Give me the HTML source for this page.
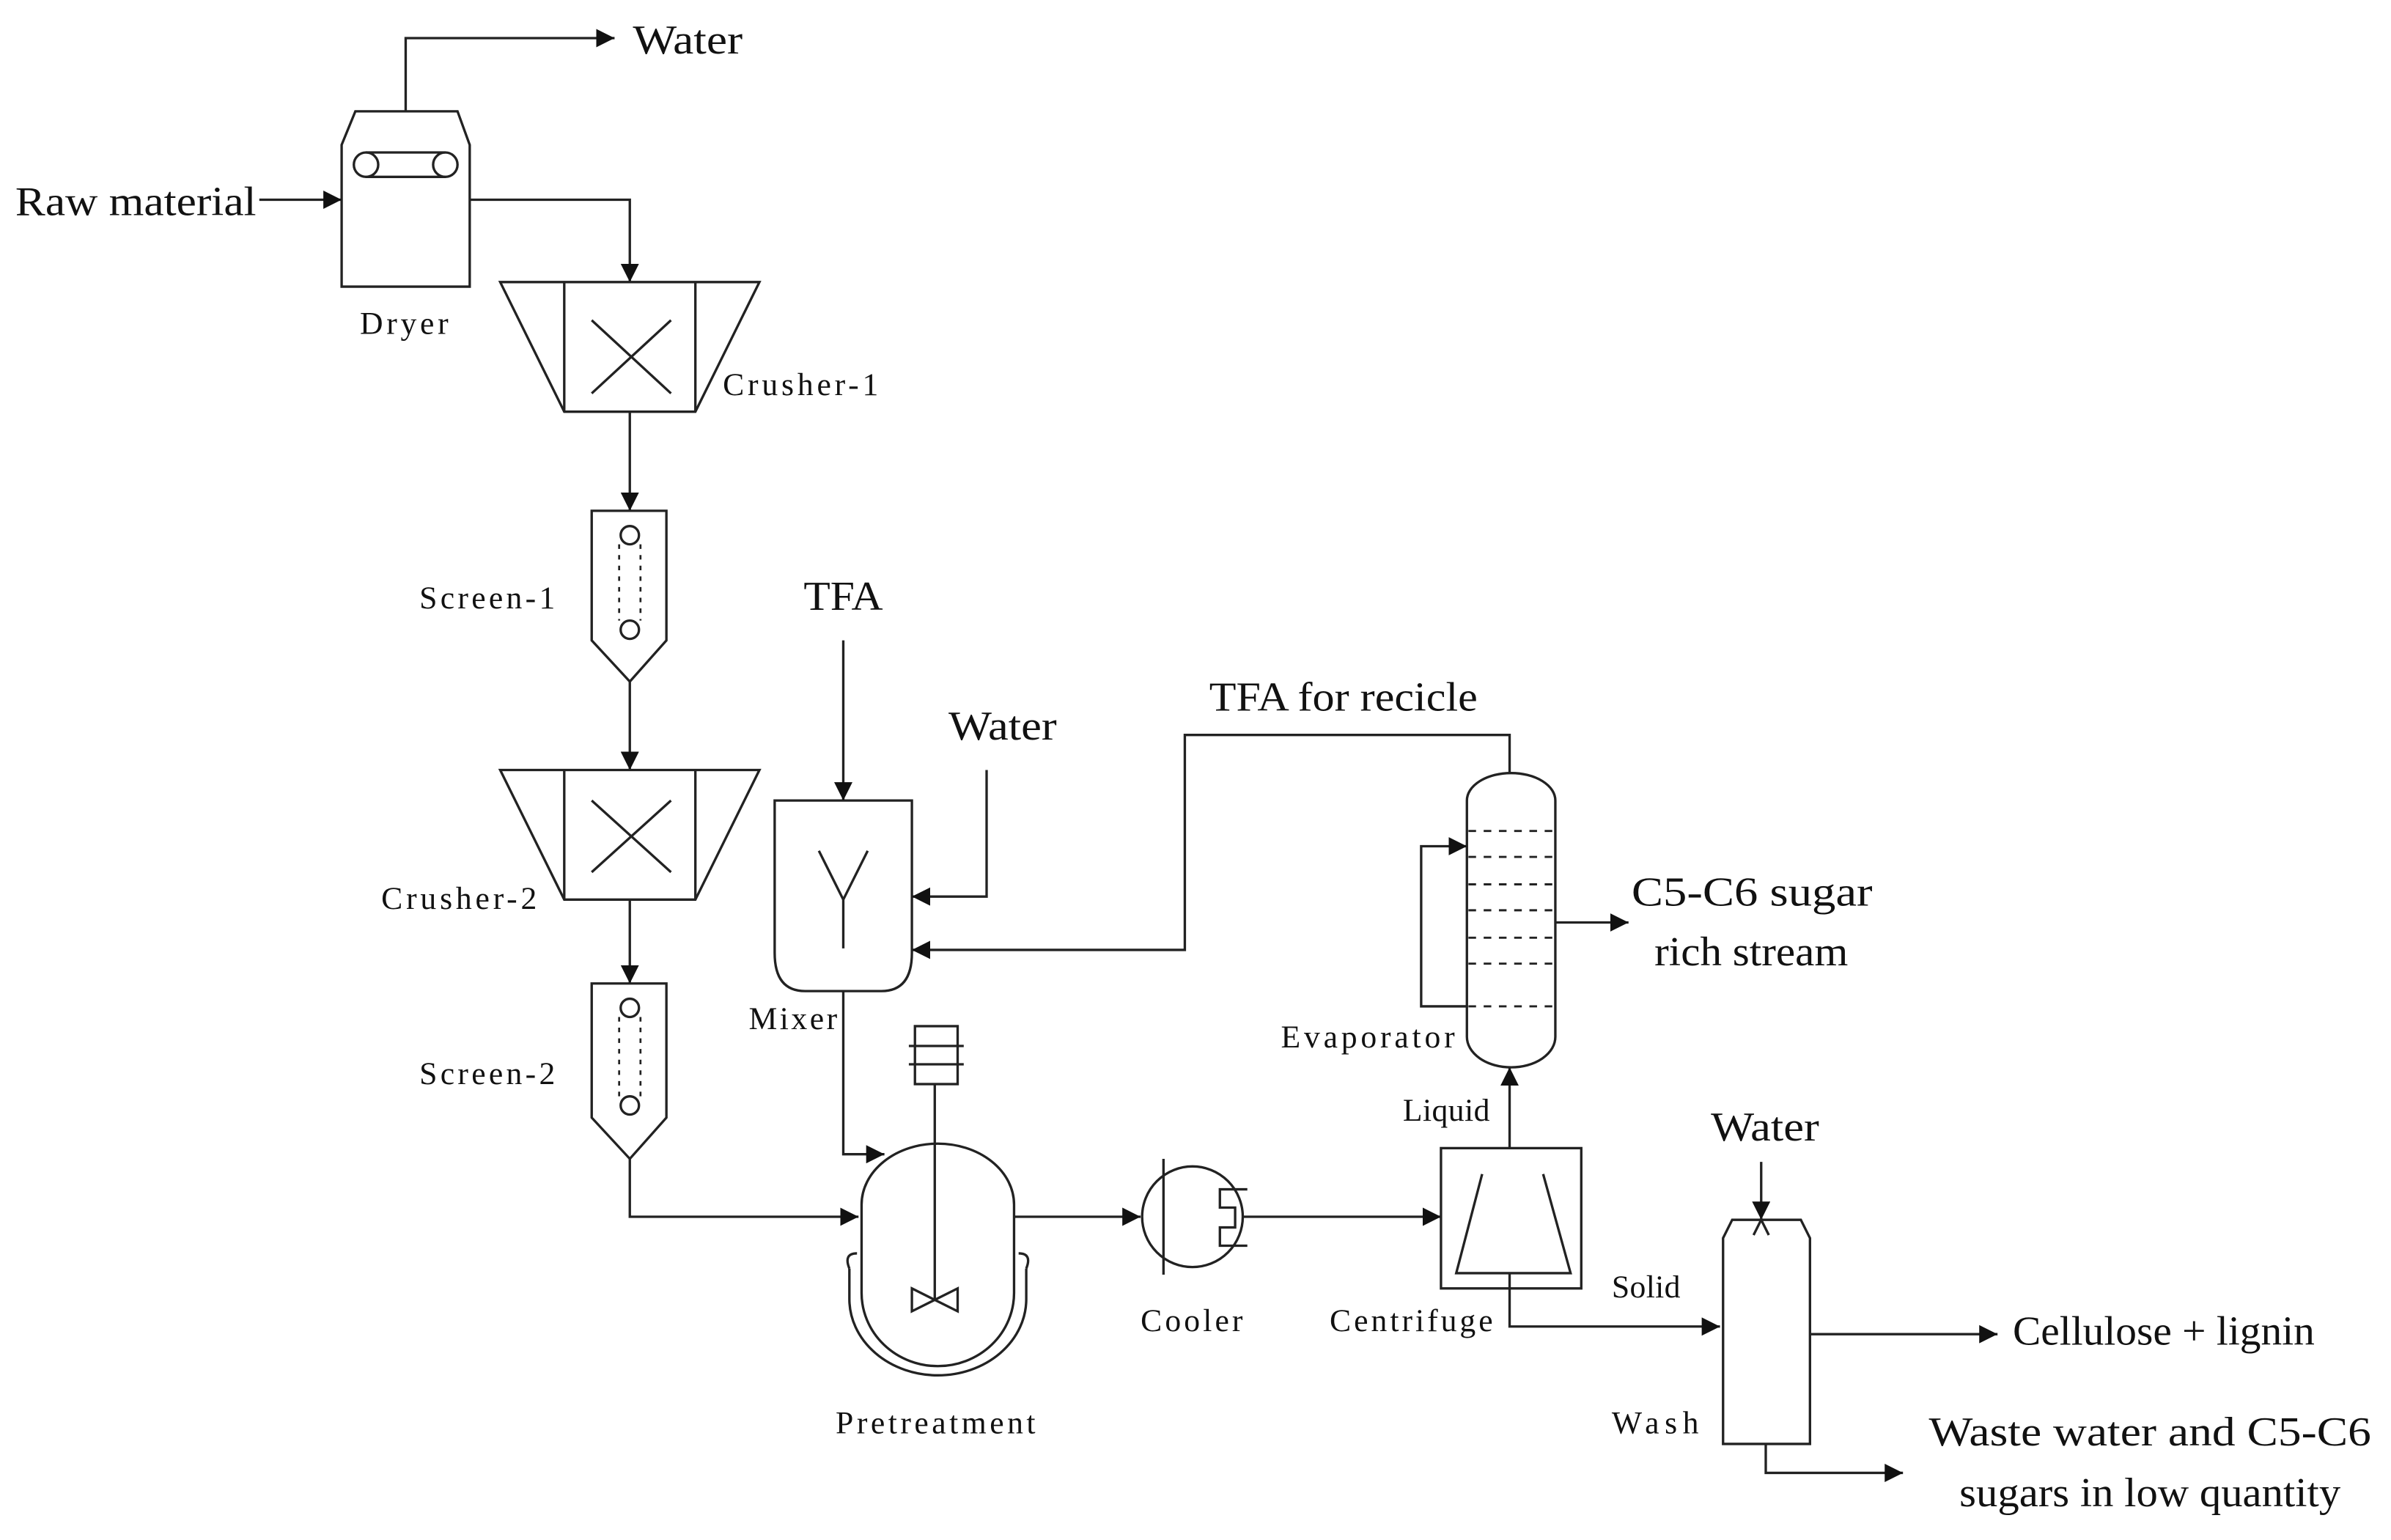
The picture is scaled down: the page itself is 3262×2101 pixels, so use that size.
<!DOCTYPE html>
<html><head><meta charset="utf-8"><style>
html,body{margin:0;padding:0;background:#fff;}
svg{display:block;}
text{font-family:"Liberation Serif",serif;fill:#111;}
.b{font-size:27px;}
.s{font-size:21px;}
</style></head><body>
<svg width="3262" height="2101" viewBox="0 0 1568 1010" xmlns="http://www.w3.org/2000/svg">
<defs>
<marker id="a" viewBox="0 0 10 10" refX="10" refY="5" markerWidth="12" markerHeight="12" markerUnits="userSpaceOnUse" orient="auto"><path d="M0,0 L10,5 L0,10 z" fill="#111"/></marker>
</defs>
<g fill="none" stroke="#222" stroke-width="1.6">
<!-- Dryer -->
<path d="M224,95 L233,73 L300,73 L308,95 L308,188 L224,188 Z"/>
<path d="M240,100 L292,100 M240,116 L292,116"/>
<ellipse cx="240" cy="108" rx="8" ry="8"/><ellipse cx="292" cy="108" rx="8" ry="8"/>
<path d="M266,73 L266,25 L403,25" marker-end="url(#a)"/>
<path d="M170,131 L224,131" marker-end="url(#a)"/>
<path d="M308,131 L413,131 L413,185" marker-end="url(#a)"/>
<!-- Crusher 1 -->
<path d="M328,185 L498,185 L456,270 L370,270 Z"/>
<path d="M370,185 L370,270 M456,185 L456,270 M388,210 L440,258 M440,210 L388,258"/>
<path d="M413,270 L413,335" marker-end="url(#a)"/>
<!-- Screen 1 -->
<path d="M388,335 L437,335 L437,420 L413,447 L388,420 Z"/>
<circle cx="413" cy="351" r="6"/><circle cx="413" cy="413" r="6"/>
<path d="M406,357 L406,407 M420,357 L420,407" stroke-dasharray="3,4" stroke-width="1.3"/>
<path d="M413,447 L413,505" marker-end="url(#a)"/>
<!-- Crusher 2 -->
<path d="M328,505 L498,505 L456,590 L370,590 Z"/>
<path d="M370,505 L370,590 M456,505 L456,590 M388,525 L440,572 M440,525 L388,572"/>
<path d="M413,590 L413,645" marker-end="url(#a)"/>
<!-- Screen 2 -->
<path d="M388,645 L437,645 L437,733 L413,760 L388,733 Z"/>
<circle cx="413" cy="661" r="6"/><circle cx="413" cy="725" r="6"/>
<path d="M406,667 L406,719 M420,667 L420,719" stroke-dasharray="3,4" stroke-width="1.3"/>
<path d="M413,760 L413,798 L563,798" marker-end="url(#a)"/>
<!-- Mixer -->
<path d="M508,525 L598,525 L598,625 Q598,650 578,650 L528,650 Q508,650 508,625 Z"/>
<path d="M537,558 L553,590 L569,558 M553,590 L553,622"/>
<path d="M553,420 L553,525" marker-end="url(#a)"/>
<path d="M647,505 L647,588 L598,588" marker-end="url(#a)"/>
<path d="M553,650 L553,757 L580,757" marker-end="url(#a)"/>
<!-- Pretreatment -->
<path d="M565,790 A50,40 0 0 1 665,790 L665,848 A50,48 0 0 1 565,848 Z"/>
<path d="M557,832 Q553,822 562,822 M673,832 Q677,822 668,822"/>
<path d="M557,832 L557,852 A58,50 0 0 0 673,852 L673,832"/>
<rect x="600" y="673" width="28" height="38"/>
<path d="M596,686 L632,686 M596,698 L632,698"/>
<path d="M613,711 L613,852"/>
<path d="M598,845 L628,860 L628,845 L598,860 Z"/>
<path d="M665,798 L748,798" marker-end="url(#a)"/>
<!-- Cooler -->
<ellipse cx="782" cy="798" rx="33" ry="33"/>
<path d="M763,760 L763,836"/>
<path d="M818,780 L800,780 L800,792 L810,792 L810,805 L800,805 L800,817 L818,817"/>
<path d="M815,798 L945,798" marker-end="url(#a)"/>
<!-- Centrifuge -->
<rect x="945" y="753" width="92" height="92"/>
<path d="M972,770 L955,835 L1030,835 L1012,770"/>
<path d="M990,753 L990,700" marker-end="url(#a)"/>
<path d="M990,835 L990,870 L1128,870" marker-end="url(#a)"/>
<!-- Evaporator -->
<path d="M962,525 A29,18 0 0 1 1020,525 L1020,680 A29,20 0 0 1 962,680 Z"/>
<g stroke-dasharray="5,5" stroke-width="1.4">
<path d="M963,545 L1020,545 M963,562 L1020,562 M963,580 L1020,580 M963,597 L1020,597 M963,615 L1020,615 M963,632 L1020,632 M963,660 L1020,660"/>
</g>
<path d="M962,660 L932,660 L932,555 L962,555" marker-end="url(#a)"/>
<path d="M990,507 L990,482 L777,482 L777,623 L598,623" marker-end="url(#a)"/>
<path d="M1020,605 L1068,605" marker-end="url(#a)"/>
<!-- Wash -->
<path d="M1130,812 L1136,800 L1181,800 L1187,812 L1187,947 L1130,947 Z"/>
<path d="M1155,762 L1155,800" marker-end="url(#a)"/>
<path d="M1150,810 L1155,800 L1160,810"/>
<path d="M1187,875 L1310,875" marker-end="url(#a)"/>
<path d="M1158,947 L1158,966 L1248,966" marker-end="url(#a)"/>
</g>
<!-- labels -->
<text class="b" x="415" y="35" textLength="72" lengthAdjust="spacingAndGlyphs">Water</text>
<text class="b" x="10" y="141" textLength="158" lengthAdjust="spacingAndGlyphs">Raw material</text>
<text class="s" x="236" y="219" textLength="58" lengthAdjust="spacing">Dryer</text>
<text class="s" x="474" y="259" textLength="102" lengthAdjust="spacing">Crusher-1</text>
<text class="s" x="275" y="399" textLength="89" lengthAdjust="spacing">Screen-1</text>
<text class="b" x="527" y="400" textLength="52" lengthAdjust="spacingAndGlyphs">TFA</text>
<text class="b" x="622" y="485" textLength="71" lengthAdjust="spacingAndGlyphs">Water</text>
<text class="b" x="793" y="466" textLength="176" lengthAdjust="spacingAndGlyphs">TFA for recicle</text>
<text class="s" x="250" y="596" textLength="102" lengthAdjust="spacing">Crusher-2</text>
<text class="b" x="1070" y="594" textLength="158" lengthAdjust="spacingAndGlyphs">C5-C6 sugar</text>
<text class="b" x="1085" y="633" textLength="127" lengthAdjust="spacingAndGlyphs">rich stream</text>
<text class="s" x="491" y="675" textLength="58" lengthAdjust="spacing">Mixer</text>
<text class="s" x="840" y="687" textLength="114" lengthAdjust="spacing">Evaporator</text>
<text class="s" x="275" y="711" textLength="89" lengthAdjust="spacing">Screen-2</text>
<text class="s" x="920" y="735" textLength="57" lengthAdjust="spacing">Liquid</text>
<text class="b" x="1122" y="748" textLength="71" lengthAdjust="spacingAndGlyphs">Water</text>
<text class="s" x="1057" y="851" textLength="45" lengthAdjust="spacing">Solid</text>
<text class="s" x="748" y="873" textLength="67" lengthAdjust="spacing">Cooler</text>
<text class="s" x="872" y="873" textLength="107" lengthAdjust="spacing">Centrifuge</text>
<text class="b" x="1320" y="882" textLength="198" lengthAdjust="spacingAndGlyphs">Cellulose + lignin</text>
<text class="s" x="548" y="940" textLength="131" lengthAdjust="spacing">Pretreatment</text>
<text class="s" x="1057" y="940" textLength="57" lengthAdjust="spacing">Wash</text>
<text class="b" x="1265" y="948" textLength="290" lengthAdjust="spacingAndGlyphs">Waste water and C5-C6</text>
<text class="b" x="1285" y="988" textLength="250" lengthAdjust="spacingAndGlyphs">sugars in low quantity</text>
</svg>
</body></html>
